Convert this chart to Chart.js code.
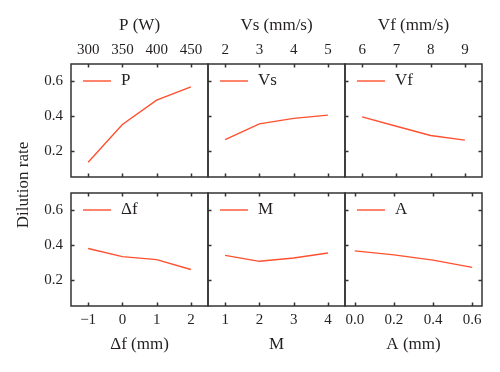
<!DOCTYPE html>
<html>
<head>
<meta charset="utf-8">
<script src="https://cdn.jsdelivr.net/npm/chart.js@4/dist/chart.umd.min.js"></script>
<style>
  html, body { margin: 0; padding: 0; background: #fff; }
  #wrap { position: relative; width: 500px; height: 372px; overflow: hidden; }
  #wrap canvas { position: absolute; left: 0; top: 0; }
</style>
</head>
<body>
<div id="wrap"></div>
<script>
// ---- data ----
const yTickValues = [0.2, 0.4, 0.6];
const yTickLabels = ['0.2', '0.4', '0.6'];

const pX = [300, 350, 400, 450];
const pY = [0.135, 0.352, 0.492, 0.568];
const pTicks = ['300', '350', '400', '450'];

const vsX = [2, 3, 4, 5];
const vsY = [0.265, 0.356, 0.387, 0.406];
const vsTicks = ['2', '3', '4', '5'];

const vfX = [6, 7, 8, 9];
const vfY = [0.396, 0.342, 0.289, 0.262];
const vfTicks = ['6', '7', '8', '9'];

const dfX = [-1, 0, 1, 2];
const dfY = [0.381, 0.334, 0.317, 0.260];
const dfTicks = ['\u22121', '0', '1', '2'];

const mX = [1, 2, 3, 4];
const mY = [0.341, 0.307, 0.326, 0.355];
const mTicks = ['1', '2', '3', '4'];

const aX = [0.0, 0.2, 0.4, 0.6];
const aY = [0.367, 0.344, 0.314, 0.272];
const aTicks = ['0.0', '0.2', '0.4', '0.6'];

const panels = [
  { row: 0, col: 0, label: 'P',  title: 'P (W)',     xs: pX,  ys: pY,  ticks: pTicks,  min: 275, max: 475 },
  { row: 0, col: 1, label: 'Vs', title: 'Vs (mm/s)', xs: vsX, ys: vsY, ticks: vsTicks, min: 1.5, max: 5.5 },
  { row: 0, col: 2, label: 'Vf', title: 'Vf (mm/s)', xs: vfX, ys: vfY, ticks: vfTicks, min: 5.5, max: 9.5 },
  { row: 1, col: 0, label: '\u0394f', title: '\u0394f (mm)', xs: dfX, ys: dfY, ticks: dfTicks, min: -1.5, max: 2.5 },
  { row: 1, col: 1, label: 'M',  title: 'M',         xs: mX,  ys: mY,  ticks: mTicks,  min: 0.5, max: 4.5 },
  { row: 1, col: 2, label: 'A',  title: 'A (mm)',    xs: aX,  ys: aY,  ticks: aTicks,  min: -0.05, max: 0.65 }
];
const yAxisTitle = 'Dilution rate';

// ---- layout ----
const W = 500, H = 372;
const colL = [71, 208, 345], colR = [208, 345, 482];
const rowT = [64, 193], rowB = [177, 306];
const FONT = "'Liberation Serif', 'DejaVu Serif', serif";
const TEXT = '#231f20';
const FRAME = '#333';
const LINE = '#ff5030';

Chart.defaults.font.family = FONT;
Chart.defaults.color = TEXT;

const framePlugin = {
  id: 'frame',
  afterDraw(chart, args, opts) {
    const { ctx, chartArea: a } = chart;
    const xs = chart.scales.x, ys = chart.scales.y;
    const tl = 3.5;
    ctx.save();
    ctx.strokeStyle = FRAME;
    ctx.lineWidth = 1.5;
    ctx.beginPath();
    opts.xTicks.forEach(v => {
      const px = Math.round(xs.getPixelForValue(v)) + 0.5;
      ctx.moveTo(px, a.top); ctx.lineTo(px, a.top + tl);
      ctx.moveTo(px, a.bottom); ctx.lineTo(px, a.bottom - tl);
    });
    yTickValues.forEach(v => {
      const py = Math.round(ys.getPixelForValue(v)) + 0.5;
      ctx.moveTo(a.left, py); ctx.lineTo(a.left + tl, py);
      if (opts.rightTicks) { ctx.moveTo(a.right, py); ctx.lineTo(a.right - tl, py); }
    });
    ctx.stroke();
    ctx.strokeRect(a.left, a.top, a.right - a.left, a.bottom - a.top);
    // legend
    const ly = a.top + 17;
    ctx.strokeStyle = LINE;
    ctx.lineWidth = 1.4;
    ctx.beginPath();
    ctx.moveTo(a.left + 12, ly); ctx.lineTo(a.left + 40, ly);
    ctx.stroke();
    ctx.fillStyle = TEXT;
    ctx.font = '17px ' + FONT;
    ctx.textAlign = 'left';
    ctx.textBaseline = 'middle';
    ctx.fillText(chart.data.datasets[0].label, a.left + 50, ly);
    if (opts.yTitle) {
      ctx.translate(24, 185);
      ctx.rotate(-Math.PI / 2);
      ctx.textAlign = 'center';
      ctx.fillText(yAxisTitle, 0, 0);
    }
    ctx.restore();
  }
};

const wrap = document.getElementById('wrap');
panels.forEach((p, idx) => {
  const cv = document.createElement('canvas');
  cv.width = W; cv.height = H;
  cv.style.width = W + 'px'; cv.style.height = H + 'px';
  wrap.appendChild(cv);
  const L = colL[p.col], R = colR[p.col], T = rowT[p.row], B = rowB[p.row];
  const showY = p.col === 0;
  const yW = 50;
  const top = p.row === 0;
  const xH = top ? T : H - B;
  new Chart(cv, {
    type: 'line',
    data: {
      datasets: [{
        label: p.label,
        data: p.xs.map((x, i) => ({ x: x, y: p.ys[i] })),
        borderColor: LINE,
        borderWidth: 1.4,
        pointRadius: 0,
        tension: 0,
        fill: false
      }]
    },
    options: {
      responsive: false,
      animation: false,
      devicePixelRatio: 1,
      layout: {
        padding: {
          left: showY ? L - yW : L,
          right: W - R,
          top: top ? 0 : T,
          bottom: top ? H - B : 0
        }
      },
      plugins: {
        legend: { display: false },
        tooltip: { enabled: false },
        frame: { xTicks: p.xs, rightTicks: p.col === 2, yTitle: idx === 0 }
      },
      scales: {
        x: {
          type: 'linear',
          position: top ? 'top' : 'bottom',
          min: p.min, max: p.max,
          grid: { display: false, drawTicks: false },
          border: { display: false },
          afterBuildTicks: s => { s.ticks = p.xs.map(v => ({ value: v })); },
          afterFit: s => { s.height = xH; },
          ticks: {
            autoSkip: false, maxRotation: 0, padding: 5,
            font: { size: 15 }, color: TEXT,
            callback: (v, i) => p.ticks[i]
          },
          title: {
            display: true, text: p.title, color: TEXT,
            font: { size: 17 },
            padding: top ? { top: 15, bottom: 0 } : { top: 0, bottom: 17 }
          }
        },
        y: {
          type: 'linear',
          display: showY,
          min: 0.05, max: 0.70,
          grid: { display: false, drawTicks: false },
          border: { display: false },
          afterBuildTicks: s => { s.ticks = yTickValues.map(v => ({ value: v })); },
          afterFit: s => { s.width = showY ? yW : 0; },
          ticks: {
            autoSkip: false, padding: 8,
            font: { size: 15 }, color: TEXT,
            callback: (v, i) => yTickLabels[i]
          }
        }
      }
    },
    plugins: [framePlugin]
  });
});
</script>
</body>
</html>
